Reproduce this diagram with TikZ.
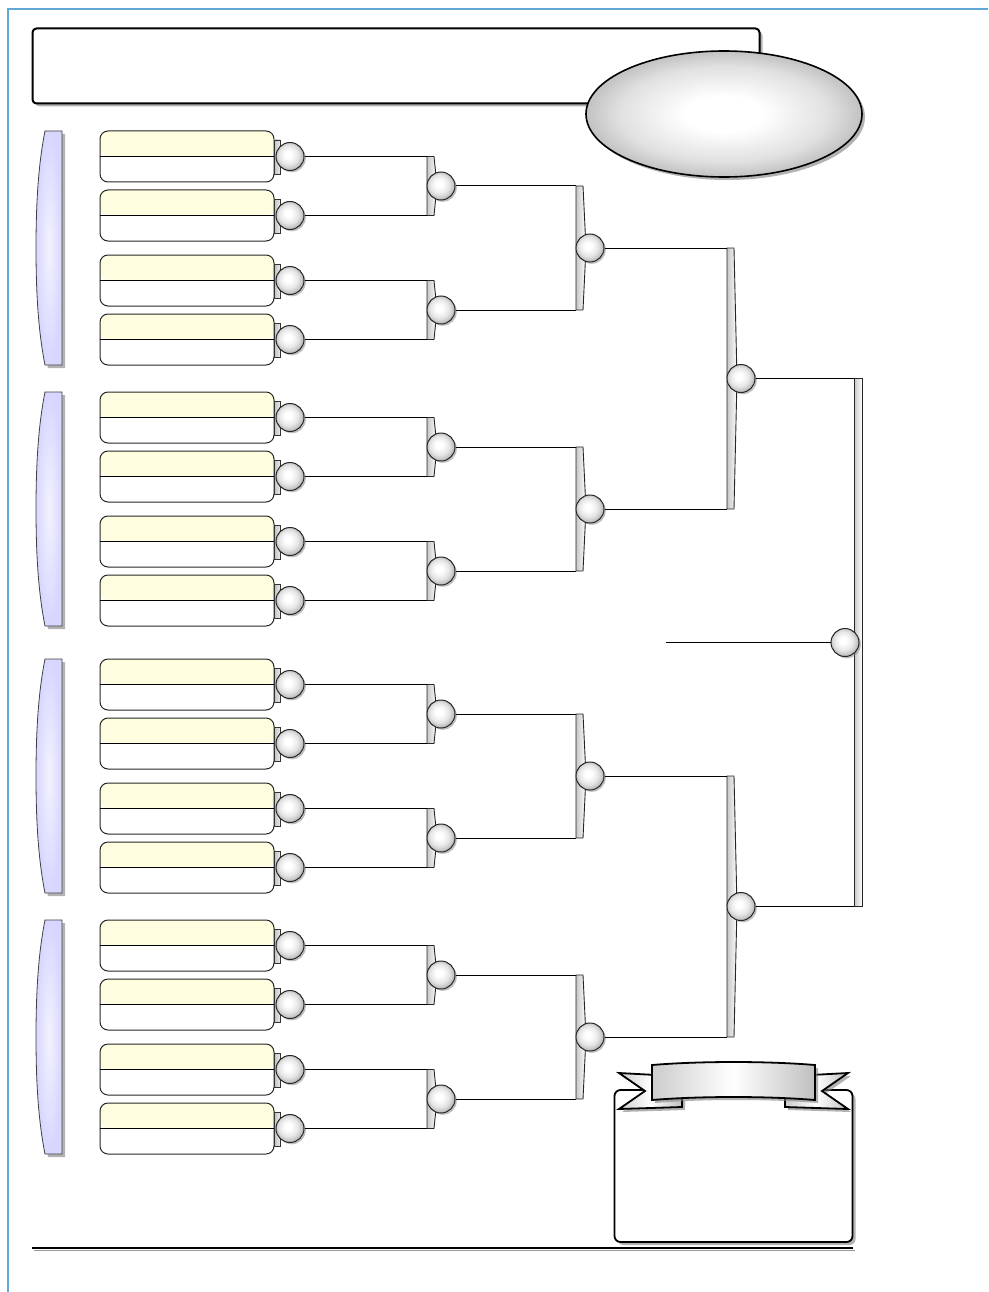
\documentclass[tikz,border=0pt]{standalone}
\usetikzlibrary{shadows,shapes.geometric,calc}
\definecolor{yel}{RGB}{255,253,224}
\definecolor{lav}{RGB}{214,214,255}
\definecolor{bordblue}{RGB}{95,168,215}
\pgfdeclareradialshading{bub}{\pgfpoint{-4bp}{4bp}}{color(0bp)=(white); color(6bp)=(white); color(17bp)=(black!10); color(26bp)=(black!28); color(50bp)=(black!30)}
\pgfdeclareradialshading{ellbub}{\pgfpoint{0bp}{0bp}}{color(0bp)=(white); color(7bp)=(white); color(19bp)=(black!12); color(25bp)=(black!24); color(50bp)=(black!26)}
\begin{document}
\begin{tikzpicture}[x=1pt,y=-1pt,
  shad/.style={drop shadow={shadow xshift=3pt,shadow yshift=-3pt,fill=black!50,opacity=.6}},
  team/.style={draw=black!85,line width=1pt,rounded corners=8pt,minimum width=174pt,minimum height=51pt,inner sep=0pt,fill=white,
    path picture={\fill[yel] (path picture bounding box.north west) rectangle (path picture bounding box.east);}},
  pball/.style={circle,draw=black!85,line width=1pt,minimum size=28pt,inner sep=0pt,shading=bub,
    drop shadow={shadow xshift=1.8pt,shadow yshift=-1.8pt,fill=black!50,opacity=.5}},
  conn/.style={line width=1pt,black},
  barshade/.style={draw=black!85,line width=0.9pt,left color=black!22,right color=white},
  tabshade/.style={draw=black!80,line width=0.8pt,left color=black!25,right color=white!92!black},
  ribbonshade/.style={draw=black,line width=1.8pt,left color=black!20,right color=black!25,middle color=white}
]
\useasboundingbox (0,0) rectangle (988,1292);
% page border
\draw[bordblue,line width=1.3pt] (8,1292) -- (8,9) -- (988,9);
% title box and ellipse
\node[draw,line width=2pt,rounded corners=4pt,minimum width=727pt,minimum height=75pt,fill=white,shad] (title) at (396,66) {};
\node[ellipse,draw,line width=1.6pt,minimum width=276pt,minimum height=126pt,shading=ellbub,shad] (trophy) at (724,114) {};
% region bars
\foreach \g in {131,392,659,920} {
  \path[draw=black!75,line width=0.8pt,inner color=lav!30,outer color=lav,shad]
    (62,\g) -- (45,\g) .. controls (38,\g+35) and (36,\g+75) .. (36,\g+117)
    .. controls (36,\g+159) and (38,\g+199) .. (45,\g+234) -- (62,\g+234) -- cycle;
}
% team boxes
\foreach \t [count=\k] in {131,190,255,314,392,451,516,575,659,718,783,842,920,979,1044,1103} {
  \node[team] (t\k) at (187,\t+25.5) {};
  \draw[line width=0.9pt] (t\k.west) -- (t\k.east);
  \path[tabshade] (274,\t+9) rectangle (280,\t+43);
  \node[pball] (c\k) at (290,\t+25.5) {};
}
% round 1
\foreach \k/\a/\b/\ya/\yb in {1/1/2/156.5/215.5,2/3/4/280.5/339.5,3/5/6/417.5/476.5,4/7/8/541.5/600.5,
  5/9/10/684.5/743.5,6/11/12/808.5/867.5,7/13/14/945.5/1004.5,8/15/16/1069.5/1128.5} {
  \path[barshade] (427,\ya) -- (434,\ya) -- (437,{(\ya+\yb)/2}) -- (434,\yb) -- (427,\yb) -- cycle;
  \node[pball] (ra\k) at (441,{(\ya+\yb)/2}) {};
  \draw[conn] (c\a.east) -- (c\a.east -| ra\k.west);
  \draw[conn] (c\b.east) -- (c\b.east -| ra\k.west);
}
% round 2
\foreach \k/\a/\b/\ya/\yb in {1/1/2/186/310,2/3/4/447/571,3/5/6/714/838,4/7/8/975/1099} {
  \path[barshade] (576,\ya) -- (583,\ya) -- (586,{(\ya+\yb)/2}) -- (583,\yb) -- (576,\yb) -- cycle;
  \node[pball] (rb\k) at (590,{(\ya+\yb)/2}) {};
  \draw[conn] (ra\a.east) -- (ra\a.east -| rb\k.west);
  \draw[conn] (ra\b.east) -- (ra\b.east -| rb\k.west);
}
% round 3
\foreach \k/\a/\b/\ya/\yb in {1/1/2/248/509,2/3/4/776/1037} {
  \path[barshade] (727,\ya) -- (734,\ya) -- (737,{(\ya+\yb)/2}) -- (734,\yb) -- (727,\yb) -- cycle;
  \node[pball] (rc\k) at (741,{(\ya+\yb)/2}) {};
  \draw[conn] (rb\a.east) -- (rb\a.east -| rc\k.west);
  \draw[conn] (rb\b.east) -- (rb\b.east -| rc\k.west);
}
% final
\path[barshade] (854,378.5) -- (862,378.5) -- (862,906.5) -- (854,906.5) -- cycle;
\coordinate (fbar) at (854,642.5);
\coordinate (champ) at (666,642.5);
\node[pball] (fin) at (845,642.5) {};
\draw[conn] (rc1.east) -- (rc1.east -| fbar);
\draw[conn] (rc2.east) -- (rc2.east -| fbar);
\draw[conn] (fin.west) -- (champ);
% notes box with ribbon
\node[draw,line width=1.8pt,rounded corners=6pt,minimum width=238pt,minimum height=152pt,fill=white,shad] (notes) at (733.5,1166) {};
\path[ribbonshade,shad] (619,1073) -- (656,1075) -- (682,1098) -- (682,1107) -- (619,1109) -- (645,1091) -- cycle;
\path[ribbonshade,shad] (848,1073) -- (811,1075) -- (785,1098) -- (785,1107) -- (848,1109) -- (822,1091) -- cycle;
\path[ribbonshade,shad] (652,1065) .. controls (700,1061) and (767,1061) .. (815,1065) -- (815,1100)
  .. controls (767,1096) and (700,1096) .. (652,1100) -- cycle;
% bottom rule
\draw[black!40,line width=1.5pt] (34,1250.5) -- (855,1250.5);
\draw[line width=2pt] (32,1248) -- (853,1248);
\end{tikzpicture}
\end{document}
